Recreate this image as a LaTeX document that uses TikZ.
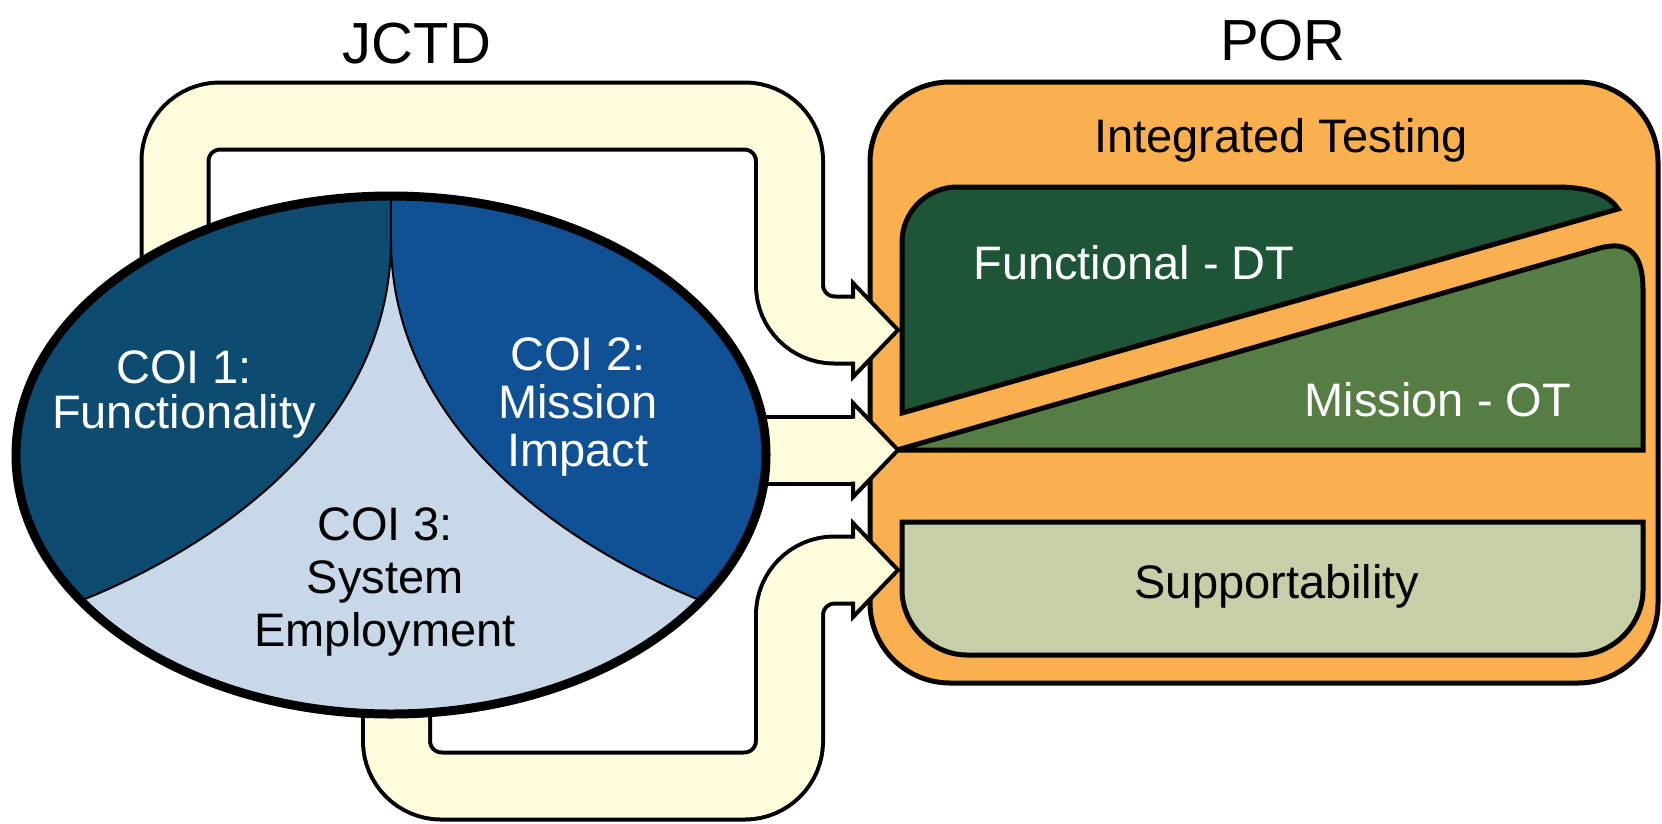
\documentclass[tikz,border=0pt]{standalone}
\usepackage{fontspec}
\setmainfont{Liberation Sans}
\usepackage{xcolor}
\usepackage{tikz}

\definecolor{bandfill}{RGB}{255,252,220}
\definecolor{porange}{RGB}{251,176,79}
\definecolor{dtgreen}{RGB}{30,85,55}
\definecolor{otgreen}{RGB}{85,125,68}
\definecolor{supgreen}{RGB}{197,208,168}
\definecolor{coione}{RGB}{14,75,112}
\definecolor{coitwo}{RGB}{16,80,148}
\definecolor{coithree}{RGB}{200,216,232}

\begin{document}
\begin{tikzpicture}[x=1pt, y=-1pt,
    band/.style={draw=black, line width=4pt, double=bandfill, double distance=63pt, rounded corners=45pt},
    head/.style={fill=bandfill, draw=black, line width=4pt, line join=miter},
    panel/.style={draw=black, line width=5pt},
    lbl/.style={font=\fontsize{47}{47}\selectfont, align=center, inner sep=0pt},
    title/.style={font=\fontsize{58}{58}\selectfont, inner sep=0pt}]

  \useasboundingbox (0,0) rectangle (1662,823);

  % POR box and its three test areas
  \draw[panel, fill=porange, rounded corners=80pt] (870,82) rectangle (1658,683);
  \filldraw[panel, fill=dtgreen] (902,413) -- (902,242) .. controls (902,212) and (927,187) .. (957,187)
    -- (1556,187) .. controls (1594,187) and (1610,197) .. (1618,209) -- cycle;
  \filldraw[panel, fill=otgreen] (897,450) -- (1600,248) .. controls (1630,240) and (1643,255) .. (1643,290)
    -- (1643,450) -- cycle;
  \filldraw[panel, fill=supgreen] (902,522) -- (1643,522) -- (1643,590) .. controls (1643,625) and (1613,655) .. (1578,655)
    -- (967,655) .. controls (932,655) and (902,625) .. (902,590) -- cycle;

  % feed arrows
  \draw[band] (175,330) -- (175,116) -- (789.5,116) -- (789.5,330) -- (853,330);
  \filldraw[head] (853,298.5) -- (853,283) -- (898,330) -- (853,377) -- (853,361.5);
  \draw[band] (700,450) -- (853,450);
  \filldraw[head] (853,418.5) -- (853,403) -- (898,450) -- (853,497) -- (853,481.5);
  \draw[band] (396.5,650) -- (396.5,786) -- (789.5,786) -- (789.5,570) -- (853,570);
  \filldraw[head] (853,601.5) -- (853,617) -- (898,570) -- (853,523) -- (853,538.5);

  % JCTD ellipse
  \begin{scope}
    \clip (391,455) ellipse [x radius=375pt, y radius=259pt];
    \fill[coione] (0,150) rectangle (391,750);
    \fill[coitwo] (391,150) rectangle (800,750);
    \filldraw[fill=coithree, draw=black, line width=2pt] (85,599) .. controls (230,540) and (391,420) .. (391,240)
      .. controls (391,420) and (552,540) .. (697,599) -- (800,760) -- (0,760) -- cycle;
    \draw[line width=2pt] (391,150) -- (391,240);
  \end{scope}
  \draw[line width=9pt] (391,455) ellipse [x radius=375pt, y radius=259pt];

  \node[title] (jctd) at (417,44) {JCTD};
  \node[title] (por) at (1283,41) {POR};
  \node[lbl, anchor=base] (integ) at (1281,152) {Integrated Testing};
  \node[lbl, anchor=base, text=white] (fdt) at (1134,279) {Functional - DT};
  \node[lbl, anchor=base, text=white] (mot) at (1438,416) {Mission - OT};
  \node[lbl, anchor=base] (supp) at (1277,598) {Supportability};

  \node[lbl, text=white, font=\fontsize{47}{45}\selectfont] (coi1) at (184,394) {COI 1:\\Functionality};
  \node[lbl, text=white, font=\fontsize{47}{48}\selectfont] (coi2) at (578,407) {COI 2:\\Mission\\Impact};
  \node[lbl, font=\fontsize{47}{53}\selectfont] (coi3) at (385,582) {COI 3:\\System\\Employment};

\end{tikzpicture}
\end{document}
